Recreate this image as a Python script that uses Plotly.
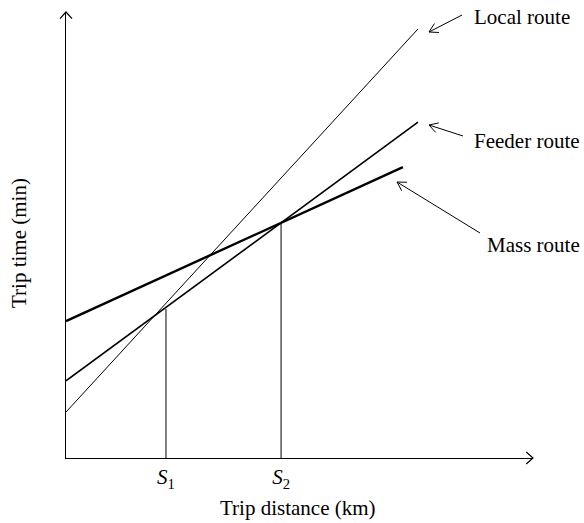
import math
import plotly.graph_objects as go

# Data (arbitrary units)
routes = ["Local route", "Feeder route", "Mass route"]
x_start = [0.0, 0.0, 0.0]
y_start = [1.03, 1.73, 3.07]
x_end = [10.0, 10.0, 9.57]
y_end = [9.62, 7.53, 6.52]
line_widths = [1.0, 1.6, 2.4]

s_labels = ["<i>S</i><sub>1</sub>", "<i>S</i><sub>2</sub>"]
s_x = [2.84, 6.11]
s_top = [3.34, 5.25]

FONT = "Liberation Serif, Times New Roman, serif"
FS = 21
W, H = 584, 523
ML, MR, MT, MB = 66, 51, 12, 65
PW, PH = W - ML - MR, H - MT - MB
XMAX, YMAX = 467 / 35.2, 10.0


def px2paper(px, py):
    return (px - ML) / PW, (H - MB - py) / PH


def arrow_shapes(tail, head, arm=10, half_angle=28, width=1.0):
    hx, hy = head
    tx, ty = tail
    d = math.hypot(tx - hx, ty - hy)
    ux, uy = (tx - hx) / d, (ty - hy) / d
    out = []
    a = px2paper(tx, ty)
    b = px2paper(hx, hy)
    out.append(dict(type="line", xref="paper", yref="paper", x0=a[0], y0=a[1], x1=b[0], y1=b[1],
                    line=dict(color="black", width=width)))
    pts = []
    for s in (1, -1):
        ang = math.radians(half_angle) * s
        rx = ux * math.cos(ang) - uy * math.sin(ang)
        ry = ux * math.sin(ang) + uy * math.cos(ang)
        pts.append(px2paper(hx + arm * rx, hy + arm * ry))
    path = f"M {pts[0][0]} {pts[0][1]} L {b[0]} {b[1]} L {pts[1][0]} {pts[1][1]}"
    out.append(dict(type="path", xref="paper", yref="paper", path=path,
                    line=dict(color="black", width=width)))
    return out


fig = go.Figure()
for name, x0, y0, x1, y1, lw in zip(routes, x_start, y_start, x_end, y_end, line_widths):
    fig.add_trace(go.Scatter(x=[x0, x1], y=[y0, y1], mode="lines", name=name,
                             line=dict(color="black", width=lw), showlegend=False,
                             hoverinfo="skip"))
for sx, st in zip(s_x, s_top):
    fig.add_trace(go.Scatter(x=[sx, sx], y=[0, st], mode="lines",
                             line=dict(color="black", width=1), showlegend=False,
                             hoverinfo="skip"))

shapes = []
# axis arrow chevrons
for tail, head in [((66, 40), (66, 12)), ((500, 458), (533, 458))]:
    shp = arrow_shapes(tail, head, arm=9, half_angle=42, width=1.2)
    shapes.append(shp[1])

# label arrows (tail px, head px)
label_arrows = [((462, 15), (429, 32)), ((463, 136), (429, 125)), ((480, 233), (397, 182))]
for tail, head in label_arrows:
    shapes.extend(arrow_shapes(tail, head, arm=10, half_angle=30, width=1.0))

annotations = []
label_pos = [(472, 17), (472, 141), (485, 245)]
for name, (lx, ly) in zip(routes, label_pos):
    px, py = px2paper(lx, ly)
    annotations.append(dict(x=px, y=py, xref="paper", yref="paper", text=name,
                            showarrow=False, xanchor="left", yanchor="middle",
                            font=dict(family=FONT, size=FS, color="black")))

tx, ty = px2paper(298, 508)
annotations.append(dict(x=tx, y=ty, xref="paper", yref="paper",
                        text="Trip distance (km)", showarrow=False, xanchor="center",
                        yanchor="middle", font=dict(family=FONT, size=FS, color="black")))
vx, vy = px2paper(19, 243)
annotations.append(dict(x=vx, y=vy, xref="paper", yref="paper",
                        text="Trip time (min)", showarrow=False, textangle=-90,
                        xanchor="center", yanchor="middle",
                        font=dict(family=FONT, size=FS, color="black")))

fig.update_layout(
    width=W, height=H,
    margin=dict(l=ML, r=MR, t=MT, b=MB, autoexpand=False),
    paper_bgcolor="white", plot_bgcolor="white",
    shapes=shapes, annotations=annotations,
    xaxis=dict(range=[0, XMAX], showgrid=False, zeroline=False, showline=True,
               linecolor="black", linewidth=1.2, tickmode="array", tickvals=s_x,
               ticktext=s_labels, ticks="", tickfont=dict(family=FONT, size=FS, color="black"),
               fixedrange=True),
    yaxis=dict(range=[0, YMAX], showgrid=False, zeroline=False, showline=True,
               linecolor="black", linewidth=1.2, showticklabels=False, ticks="",
               fixedrange=True),
)

fig.write_html("out.html", config={"displayModeBar": False},
               post_script="document.body.style.margin='0';")
